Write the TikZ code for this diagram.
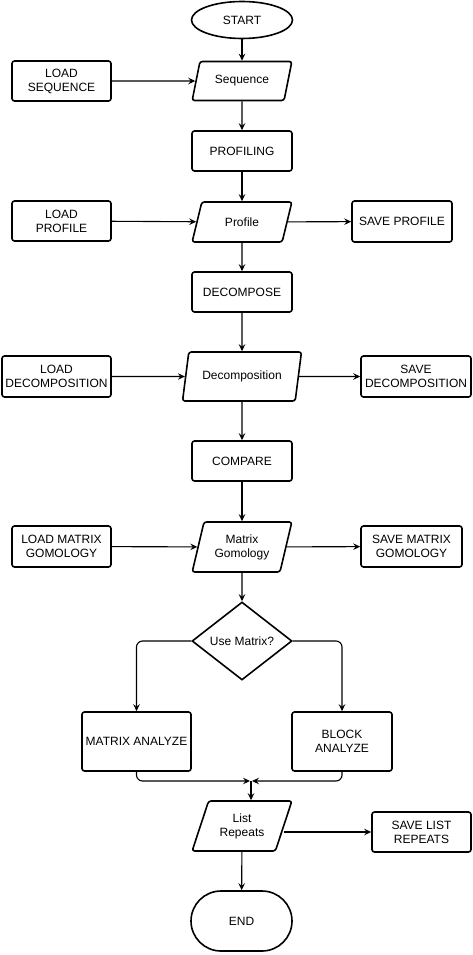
\documentclass[tikz,border=0pt]{standalone}
\usepackage{fontspec}
\setmainfont{Liberation Sans}
\usetikzlibrary{shapes.geometric,arrows.meta}
\begin{document}
\begin{tikzpicture}[x=1pt,y=-1pt,
  every node/.style={font=\fontsize{12}{14}\selectfont, align=center},
  box/.style={draw, line width=1.6pt, rounded corners=2.5pt, rectangle, minimum width=#1, minimum height=40pt, inner sep=1pt},
  para/.style={draw, line width=1.6pt, rounded corners=2.5pt, trapezium, trapezium stretches=true, trapezium left angle=68, trapezium right angle=112, minimum width=100pt, minimum height=#1, inner sep=1pt},
  conn/.style={line width=1.1pt, -{Stealth[length=7pt,width=6.5pt,inset=2.5pt]}},
  link/.style={line width=1.1pt, rounded corners=6pt}
]
\useasboundingbox (0,0) rectangle (473,955);
\node[draw, line width=1.6pt, ellipse, minimum width=101pt, minimum height=37pt, inner sep=0pt] (start) at (242,20) {START};
\node[para=39pt] (seq) at (242,81) {Sequence};
\node[box=99pt] (ls) at (61.5,81) {LOAD\\SEQUENCE};
\node[box=100pt] (prof) at (242,151) {PROFILING};
\node[para=40pt] (profile) at (242,222) {Profile};
\node[box=99pt] (lp) at (61.5,221) {LOAD\\PROFILE};
\node[box=100pt, minimum height=41pt] (sp) at (402,221.5) {SAVE PROFILE};
\node[box=100pt] (dec) at (242,292) {DECOMPOSE};
\node[para=49pt, trapezium left angle=70, trapezium right angle=110, minimum width=120pt] (decomp) at (242,376.5) {Decomposition};
\node[box=109pt, minimum height=41pt] (ld) at (56.5,376.5) {LOAD\\DECOMPOSITION};
\node[box=110pt, minimum height=41pt] (sd) at (416,376.5) {SAVE\\DECOMPOSITION};
\node[box=100pt] (cmp) at (242,461) {COMPARE};
\node[para=50pt, trapezium left angle=72, trapezium right angle=108] (mg) at (242,547) {Matrix\\Gomology};
\node[box=99pt, minimum height=41pt] (lm) at (61.5,546.5) {LOAD MATRIX\\GOMOLOGY};
\node[box=101pt, minimum height=41pt] (sm) at (411.5,546.5) {SAVE MATRIX\\GOMOLOGY};
\node[draw, line width=1.6pt, diamond, aspect=1.28, minimum width=100pt, minimum height=78pt, inner sep=0pt] (use) at (242,641) {Use Matrix?};
\node[box=109pt, minimum height=59pt] (ma) at (136.5,741.5) {MATRIX ANALYZE};
\node[box=100pt, minimum height=59pt] (ba) at (342,741.5) {BLOCK\\ANALYZE};
\node[para=50pt, trapezium left angle=67, trapezium right angle=113] (lr) at (242,826) {List\\Repeats};
\node[box=99pt] (slr) at (421.5,832) {SAVE LIST\\REPEATS};
\node[draw, line width=1.6pt, rectangle, rounded corners=30pt, minimum width=101pt, minimum height=60pt] (end) at (241.5,921) {END};
\coordinate (m) at (251,781);

\draw[conn] (start) -- (seq);
\draw[conn] (ls) -- (seq);
\draw[conn] (seq) -- (prof);
\draw[conn] (prof) -- (profile);
\draw[conn] (lp) -- (profile);
\draw[conn] (profile) -- (sp);
\draw[conn] (profile) -- (dec);
\draw[conn] (dec) -- (decomp);
\draw[conn] (ld) -- (decomp);
\draw[conn] (decomp) -- (sd);
\draw[conn] (decomp) -- (cmp);
\draw[conn] (cmp) -- (mg);
\draw[conn] (lm) -- (mg);
\draw[conn] (mg) -- (sm);
\draw[conn] (mg) -- (use);
\draw[conn, link] (use.west) -| (ma.north);
\draw[conn, link] (use.east) -| (ba.north);
\draw[conn, link] (ma.south) |- ([xshift=-1pt]m);
\draw[conn, link] (ba.south) |- ([xshift=1pt]m);
\draw[conn] (m) -- (m |- lr.north);
\draw[conn] (lr.east |- slr.west) -- (slr.west);
\draw[conn] (lr) -- (end);
\end{tikzpicture}
\end{document}
